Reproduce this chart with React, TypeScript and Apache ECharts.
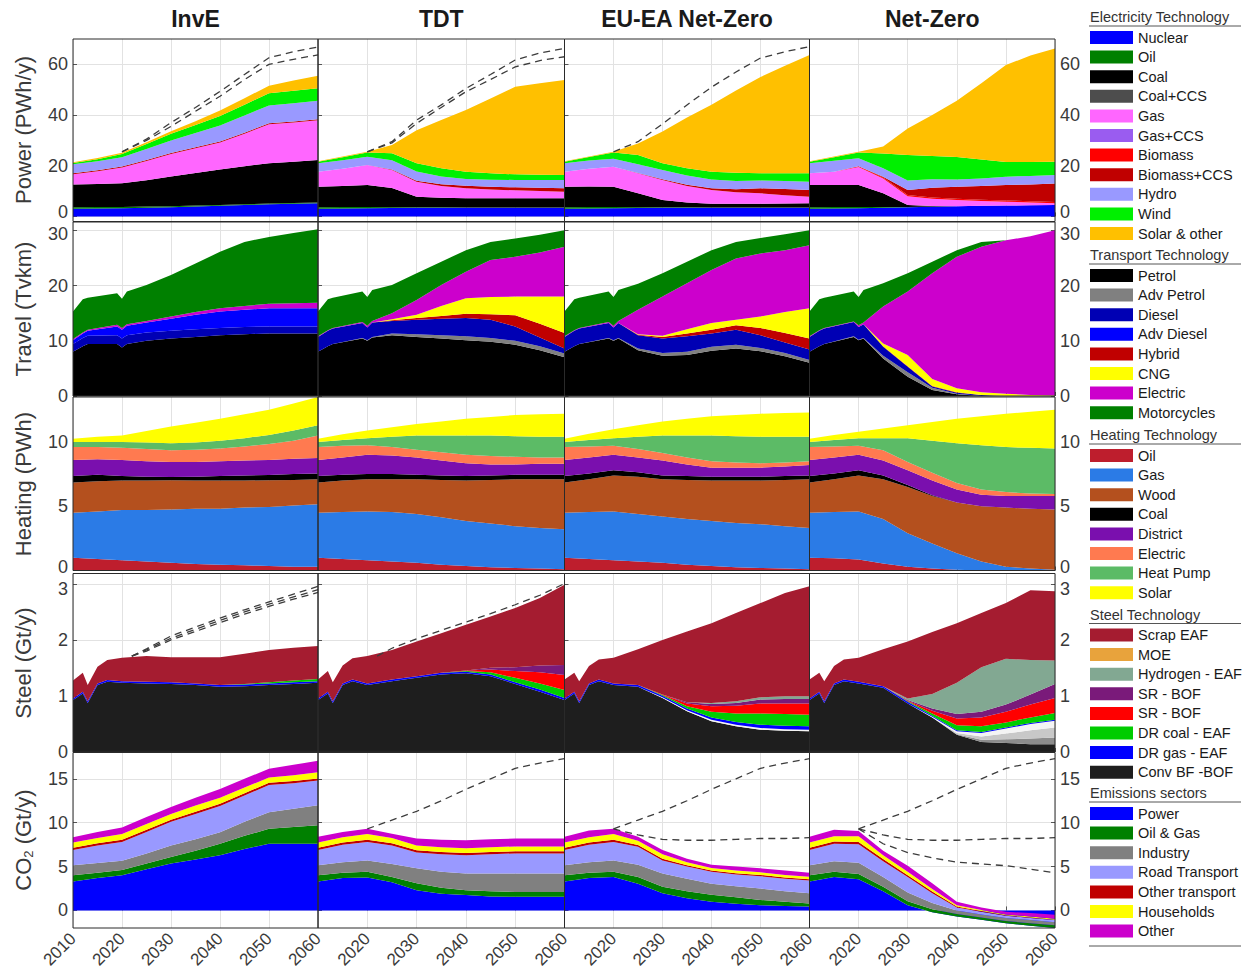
import React, { useEffect, useRef } from 'react';
import * as echarts from 'echarts';

const FONT = '"Liberation Sans", Arial, Helvetica, sans-serif';

// ---------- time bases ----------
const YEARS = [2010, 2015, 2020, 2025, 2030, 2035, 2040, 2045, 2050, 2055, 2060];
const TRAVEL_YEARS = [2010, 2012, 2013, 2019, 2020, 2021, 2025, 2030, 2035, 2040, 2045, 2050, 2055, 2060];
const STEEL_YEARS = [2010, 2012, 2013, 2015, 2017, 2020, 2025, 2030, 2035, 2040, 2045, 2050, 2055, 2060];
const REF_YEARS = [2020, 2025, 2030, 2035, 2040, 2045, 2050, 2055, 2060];
const STEEL_REF_YEARS = [2022, 2025, 2030, 2035, 2040, 2045, 2050, 2055, 2060];

const SCENARIOS = ['InvE', 'TDT', 'EU-EA Net-Zero', 'Net-Zero'];

// ---------- tick labels ----------
const POWER_TICKS = [0, 20, 40, 60];
const TRAVEL_TICKS = [0, 10, 20, 30];
const HEATING_TICKS = [0, 5, 10];
const STEEL_TICKS = [0, 1, 2, 3];
const CO2_TICKS = [0, 5, 10, 15];

// ---------- technologies (stack order, bottom first) ----------
type Tech = { key: string; name: string; color: string };

const ELECTRICITY_TECH: Tech[] = [
  { key: 'nuclear', name: 'Nuclear', color: '#0000ff' },
  { key: 'oil', name: 'Oil', color: '#008000' },
  { key: 'coal', name: 'Coal', color: '#000000' },
  { key: 'coalCcs', name: 'Coal+CCS', color: '#4d4d4d' },
  { key: 'gas', name: 'Gas', color: '#ff66ff' },
  { key: 'gasCcs', name: 'Gas+CCS', color: '#9a5cf0' },
  { key: 'biomass', name: 'Biomass', color: '#ff0000' },
  { key: 'biomassCcs', name: 'Biomass+CCS', color: '#c00000' },
  { key: 'hydro', name: 'Hydro', color: '#9999ff' },
  { key: 'wind', name: 'Wind', color: '#00f000' },
  { key: 'solar', name: 'Solar & other', color: '#ffc000' },
];

const TRANSPORT_TECH: Tech[] = [
  { key: 'petrol', name: 'Petrol', color: '#000000' },
  { key: 'advPetrol', name: 'Adv Petrol', color: '#808080' },
  { key: 'diesel', name: 'Diesel', color: '#0000b4' },
  { key: 'advDiesel', name: 'Adv Diesel', color: '#0000ff' },
  { key: 'hybrid', name: 'Hybrid', color: '#c00000' },
  { key: 'cng', name: 'CNG', color: '#ffff00' },
  { key: 'electric', name: 'Electric', color: '#cc00cc' },
  { key: 'motorcycles', name: 'Motorcycles', color: '#008000' },
];

const HEATING_TECH: Tech[] = [
  { key: 'oil', name: 'Oil', color: '#be1e2d' },
  { key: 'gas', name: 'Gas', color: '#2b7be6' },
  { key: 'wood', name: 'Wood', color: '#b4501e' },
  { key: 'coal', name: 'Coal', color: '#000000' },
  { key: 'district', name: 'District', color: '#7a0fae' },
  { key: 'electric', name: 'Electric', color: '#ff7a50' },
  { key: 'heatPump', name: 'Heat Pump', color: '#5cbb66' },
  { key: 'solar', name: 'Solar', color: '#ffff00' },
];

// legend order of the steel routes (top of the list = top of the stack)
const STEEL_TECH: Tech[] = [
  { key: 'scrap', name: 'Scrap EAF', color: '#a51c30' },
  { key: 'moe', name: 'MOE', color: '#e8a33c' },
  { key: 'hydrogen', name: 'Hydrogen - EAF', color: '#82a892' },
  { key: 'srPurple', name: 'SR - BOF', color: '#7a1a7a' },
  { key: 'srRed', name: 'SR - BOF', color: '#ff0000' },
  { key: 'drCoal', name: 'DR coal - EAF', color: '#00cc00' },
  { key: 'drGas', name: 'DR gas - EAF', color: '#0000ff' },
  { key: 'conv', name: 'Conv BF -BOF', color: '#1e1e1e' },
];
// capture variants drawn in grey shades, unlisted
const STEEL_CAPTURE: Tech[] = [
  { key: 'ccsA', name: 'BF-BOF CCS', color: '#8c8c8c' },
  { key: 'ccsB', name: 'DR CCS', color: '#c8c8c8' },
  { key: 'ccsC', name: 'SR CCS', color: '#f4f4f4' },
];
const STEEL_STACK_ORDER = ['conv', 'ccsA', 'ccsB', 'ccsC', 'drGas', 'drCoal', 'srRed', 'srPurple', 'hydrogen', 'moe', 'scrap'];

const EMISSION_SECTORS: Tech[] = [
  { key: 'power', name: 'Power', color: '#0000ff' },
  { key: 'oilGas', name: 'Oil & Gas', color: '#008000' },
  { key: 'industry', name: 'Industry', color: '#808080' },
  { key: 'road', name: 'Road Transport', color: '#9999ff' },
  { key: 'otherTransport', name: 'Other transport', color: '#c00000' },
  { key: 'households', name: 'Households', color: '#ffff00' },
  { key: 'other', name: 'Other', color: '#cc00cc' },
];

// ---------- power generation, PWh/y ----------
const POWER_INVE: Record<string, number[]> = {
  nuclear: [3.0, 3.1, 3.2, 3.4, 3.6, 3.9, 4.2, 4.5, 4.8, 5.0, 5.2],
  oil: [0.6, 0.6, 0.5, 0.5, 0.4, 0.4, 0.3, 0.3, 0.3, 0.3, 0.3],
  coal: [9.0, 9.1, 9.4, 10.4, 11.8, 12.8, 14.0, 15.0, 15.9, 16.3, 16.8],
  gas: [4.0, 5.0, 6.2, 7.6, 8.8, 9.8, 10.7, 12.8, 15.4, 15.5, 15.6],
  biomassCcs: [0.4, 0.4, 0.4, 0.4, 0.4, 0.4, 0.4, 0.4, 0.4, 0.4, 0.4],
  hydro: [3.6, 3.6, 3.6, 4.3, 5.0, 5.6, 6.3, 6.8, 7.0, 7.2, 7.3],
  wind: [0.5, 0.8, 1.3, 2.0, 2.6, 3.2, 3.7, 4.3, 4.8, 4.9, 5.0],
  solar: [0.3, 0.5, 0.5, 0.7, 1.0, 1.5, 2.2, 2.5, 3.0, 4.0, 4.9],
};
const POWER_TDT: Record<string, number[]> = {
  nuclear: [3.0, 3.1, 3.2, 3.3, 3.4, 3.4, 3.4, 3.4, 3.4, 3.4, 3.4],
  oil: [0.6, 0.6, 0.5, 0.3, 0.2, 0.2, 0.1, 0.1, 0.1, 0.1, 0.1],
  coal: [8.1, 8.3, 8.7, 7.6, 4.2, 3.8, 3.7, 3.7, 3.7, 3.7, 3.7],
  gas: [5.9, 6.8, 7.9, 7.1, 5.9, 4.6, 3.9, 3.4, 3.1, 2.8, 2.55],
  biomassCcs: [0, 0, 0, 0.2, 0.4, 0.7, 1.0, 1.1, 1.2, 1.3, 1.35],
  hydro: [3.4, 3.4, 3.2, 3.7, 3.6, 3.1, 2.7, 2.8, 2.9, 3.1, 3.3],
  wind: [0.6, 1.1, 1.7, 2.7, 3.3, 3.2, 2.8, 2.5, 2.2, 2.0, 1.9],
  solar: [0.2, 0.3, 0.3, 3.3, 13.0, 19.0, 24.4, 29.5, 34.6, 36.1, 37.5],
};
const POWER_EUEA: Record<string, number[]> = {
  nuclear: [3.0, 3.1, 3.2, 3.3, 3.4, 3.4, 3.4, 3.4, 3.4, 3.4, 3.4],
  oil: [0.6, 0.6, 0.5, 0.3, 0.2, 0.2, 0.1, 0.1, 0.1, 0.1, 0.1],
  coal: [8.1, 8.1, 8.0, 5.5, 2.9, 1.9, 1.5, 1.5, 1.5, 1.6, 1.7],
  gas: [5.9, 7.0, 7.9, 7.9, 7.9, 6.5, 5.4, 4.5, 4.1, 3.3, 2.6],
  biomassCcs: [0, 0, 0, 0.1, 0.3, 0.5, 0.7, 1.2, 2.0, 2.4, 2.6],
  hydro: [3.4, 3.3, 3.2, 3.5, 3.6, 3.6, 3.5, 3.3, 3.1, 3.2, 3.3],
  wind: [0.6, 1.3, 2.4, 3.6, 2.7, 2.9, 3.0, 3.2, 2.8, 3.0, 3.3],
  solar: [0.2, 0.2, 0.3, 4.6, 12.5, 20.0, 26.5, 32.5, 38.0, 42.4, 46.7],
};
const POWER_NETZERO: Record<string, number[]> = {
  nuclear: [3.0, 3.1, 3.2, 3.4, 3.6, 3.8, 4.0, 4.2, 4.3, 4.4, 4.5],
  oil: [0.6, 0.6, 0.5, 0.3, 0.1, 0.1, 0, 0, 0, 0, 0],
  coal: [8.8, 8.7, 8.7, 5.4, 0.8, 0.2, 0, 0, 0, 0, 0],
  gas: [4.6, 5.2, 7.1, 5.9, 3.5, 2.9, 2.5, 1.9, 1.5, 1.1, 0.7],
  biomass: [0, 0, 0.3, 0.4, 0.5, 0.5, 0.5, 0.5, 0.5, 0.5, 0.5],
  biomassCcs: [0, 0, 0, 0.3, 1.9, 3.8, 4.7, 5.4, 6.1, 6.6, 7.3],
  hydro: [4.0, 4.4, 3.2, 3.3, 3.8, 3.4, 2.9, 3.0, 3.3, 3.4, 3.3],
  wind: [0.6, 1.3, 2.2, 5.8, 10.0, 9.1, 8.8, 7.5, 5.8, 5.5, 5.3],
  solar: [0.2, 0.3, 0.3, 2.8, 10.5, 16.2, 22.2, 30.0, 38.2, 42.0, 44.7],
};
// total generation of the other scenarios (dashed)
const POWER_REF_INVE_A = [25.5, 30.5, 37.0, 43.0, 49.3, 56.0, 62.6, 65.0, 66.8];
const POWER_REF_INVE_B = [25.5, 30.0, 35.5, 41.5, 47.4, 54.0, 60.0, 62.0, 63.7];
const POWER_REF_TDT_A = [25.5, 29.5, 38.0, 44.0, 50.5, 56.0, 61.7, 64.5, 66.3];
const POWER_REF_TDT_B = [25.5, 29.0, 36.7, 43.0, 49.2, 54.0, 59.0, 61.5, 63.0];
const POWER_REF_EUEA = [25.5, 29.5, 36.5, 44.0, 51.0, 57.0, 62.5, 65.0, 67.0];

// ---------- passenger travel, Tvkm ----------
const TRAVEL_INVE: Record<string, number[]> = {
  petrol: [8.0, 9.0, 9.4, 9.4, 8.8, 9.4, 10.0, 10.4, 10.7, 11.0, 11.2, 11.3, 11.3, 11.3],
  diesel: [1.4, 1.5, 1.5, 1.6, 1.6, 1.6, 1.5, 1.4, 1.4, 1.3, 1.3, 1.3, 1.3, 1.3],
  advDiesel: [0.7, 0.8, 0.9, 1.6, 1.6, 1.7, 1.8, 2.2, 2.6, 3.0, 3.1, 3.3, 3.3, 3.3],
  electric: [0.2, 0.2, 0.2, 0.3, 0.3, 0.3, 0.3, 0.4, 0.5, 0.6, 0.7, 0.8, 0.9, 1.0],
  motorcycles: [5.0, 6.0, 5.8, 5.7, 5.3, 5.9, 6.5, 7.5, 8.8, 10.2, 11.6, 12.1, 12.7, 13.3],
};
const TRAVEL_TDT: Record<string, number[]> = {
  petrol: [8.0, 9.0, 9.4, 10.4, 10.0, 10.6, 11.0, 10.7, 10.4, 10.1, 9.8, 9.3, 8.3, 7.0],
  advPetrol: [0, 0, 0, 0.1, 0.1, 0.1, 0.3, 0.5, 0.6, 0.7, 0.7, 0.7, 0.7, 0.7],
  diesel: [2.7, 2.8, 2.8, 2.7, 2.3, 2.6, 2.3, 2.6, 3.0, 3.3, 3.3, 2.6, 1.6, 0.9],
  hybrid: [0, 0, 0, 0, 0, 0, 0.1, 0.3, 0.5, 0.8, 1.0, 2.0, 2.5, 2.8],
  cng: [0, 0, 0, 0, 0, 0, 0.2, 0.6, 1.8, 2.8, 3.1, 3.4, 4.9, 6.6],
  electric: [0.1, 0.1, 0.1, 0.2, 0.3, 0.3, 1.1, 2.7, 3.8, 4.8, 6.7, 7.2, 8.0, 9.0],
  motorcycles: [4.5, 5.6, 5.5, 5.5, 5.2, 5.6, 5.1, 4.8, 4.2, 3.9, 3.3, 3.3, 3.2, 3.0],
};
const TRAVEL_EUEA: Record<string, number[]> = {
  petrol: [8.0, 9.0, 9.4, 10.4, 10.0, 10.4, 8.3, 7.3, 7.4, 8.2, 8.6, 8.1, 7.2, 6.0],
  advPetrol: [0, 0, 0, 0.1, 0.1, 0.1, 0.3, 0.5, 0.6, 0.7, 0.7, 0.6, 0.6, 0.5],
  diesel: [2.7, 2.8, 2.8, 2.7, 2.3, 2.7, 2.4, 2.6, 2.8, 2.4, 2.7, 2.3, 1.9, 1.9],
  hybrid: [0, 0, 0, 0, 0, 0, 0.1, 0.3, 0.5, 0.7, 0.8, 1.3, 1.7, 2.0],
  cng: [0, 0, 0, 0, 0, 0, 0.1, 0.2, 0.8, 1.2, 1.0, 2.1, 3.8, 5.5],
  electric: [0.1, 0.1, 0.1, 0.2, 0.3, 0.4, 4.4, 7.1, 8.3, 9.6, 11.1, 11.4, 11.2, 11.4],
  motorcycles: [4.5, 5.6, 5.5, 5.5, 5.2, 5.6, 4.7, 4.2, 3.9, 3.6, 3.0, 2.8, 2.9, 2.7],
};
const TRAVEL_NETZERO: Record<string, number[]> = {
  petrol: [8.0, 9.0, 9.4, 10.7, 10.1, 10.4, 6.8, 3.5, 1.1, 0.3, 0, 0, 0, 0],
  advPetrol: [0, 0, 0, 0.1, 0.1, 0.1, 0.5, 0.8, 0.4, 0.1, 0, 0, 0, 0],
  diesel: [2.7, 2.8, 2.8, 2.6, 2.3, 2.5, 1.6, 1.0, 0.2, 0.2, 0.2, 0, 0, 0],
  hybrid: [0, 0, 0, 0, 0, 0, 0.1, 0.1, 0.1, 0.1, 0, 0, 0, 0],
  cng: [0, 0, 0, 0, 0, 0, 0.5, 2.0, 1.3, 0.7, 0.5, 0.4, 0.2, 0.1],
  electric: [0.1, 0.1, 0.1, 0.1, 0.3, 0.3, 6.7, 11.5, 19.1, 23.8, 26.3, 27.8, 28.7, 29.9],
  motorcycles: [4.5, 5.6, 5.5, 5.4, 5.1, 5.9, 4.2, 3.3, 2.1, 1.2, 0.9, 0, 0, 0],
};

// ---------- heating, PWh ----------
const HEAT_INVE: Record<string, number[]> = {
  oil: [1.0, 0.9, 0.8, 0.7, 0.6, 0.5, 0.45, 0.4, 0.35, 0.3, 0.3],
  gas: [3.5, 3.7, 3.9, 4.0, 4.15, 4.3, 4.35, 4.5, 4.6, 4.75, 4.85],
  wood: [2.35, 2.35, 2.3, 2.3, 2.28, 2.2, 2.2, 2.1, 2.08, 2.0, 1.95],
  coal: [0.5, 0.5, 0.35, 0.3, 0.25, 0.3, 0.35, 0.4, 0.4, 0.45, 0.45],
  district: [1.25, 1.2, 1.25, 1.2, 1.17, 1.15, 1.15, 1.15, 1.17, 1.2, 1.2],
  electric: [1.0, 0.95, 0.95, 0.95, 0.9, 0.95, 1.0, 1.1, 1.25, 1.4, 1.75],
  heatPump: [0.4, 0.4, 0.45, 0.5, 0.55, 0.55, 0.6, 0.65, 0.7, 0.8, 0.8],
  solar: [0.25, 0.4, 0.5, 0.9, 1.3, 1.55, 1.7, 1.85, 1.95, 2.1, 2.2],
};
const HEAT_TDT: Record<string, number[]> = {
  oil: [1.0, 0.9, 0.8, 0.7, 0.6, 0.45, 0.35, 0.25, 0.2, 0.15, 0.1],
  gas: [3.5, 3.65, 3.8, 3.85, 3.8, 3.7, 3.5, 3.4, 3.25, 3.15, 3.1],
  wood: [2.35, 2.45, 2.5, 2.55, 2.7, 2.9, 3.15, 3.4, 3.65, 3.8, 3.9],
  coal: [0.5, 0.45, 0.4, 0.4, 0.35, 0.35, 0.35, 0.35, 0.35, 0.35, 0.35],
  district: [1.25, 1.35, 1.5, 1.45, 1.35, 1.15, 1.0, 0.85, 0.8, 0.85, 0.85],
  electric: [1.0, 0.9, 0.75, 0.65, 0.6, 0.65, 0.65, 0.65, 0.6, 0.5, 0.5],
  heatPump: [0.4, 0.45, 0.55, 0.8, 1.1, 1.3, 1.5, 1.6, 1.6, 1.6, 1.6],
  solar: [0.25, 0.45, 0.6, 0.75, 0.9, 1.1, 1.3, 1.45, 1.65, 1.75, 1.8],
};
const HEAT_EUEA: Record<string, number[]> = {
  oil: [1.0, 0.9, 0.8, 0.7, 0.6, 0.45, 0.35, 0.25, 0.2, 0.15, 0.1],
  gas: [3.5, 3.65, 3.8, 3.7, 3.6, 3.55, 3.5, 3.45, 3.4, 3.3, 3.2],
  wood: [2.35, 2.55, 2.8, 2.9, 2.9, 3.05, 3.15, 3.3, 3.4, 3.6, 3.8],
  coal: [0.5, 0.45, 0.4, 0.35, 0.3, 0.3, 0.3, 0.3, 0.3, 0.3, 0.3],
  district: [1.25, 1.25, 1.2, 1.15, 1.15, 0.9, 0.7, 0.7, 0.7, 0.75, 0.8],
  electric: [1.0, 0.85, 0.7, 0.65, 0.6, 0.55, 0.5, 0.4, 0.35, 0.3, 0.3],
  heatPump: [0.4, 0.5, 0.6, 0.95, 1.35, 1.7, 2.0, 2.05, 2.05, 2.0, 1.9],
  solar: [0.25, 0.5, 0.7, 0.9, 1.1, 1.3, 1.5, 1.65, 1.8, 1.85, 1.9],
};
const HEAT_NETZERO: Record<string, number[]> = {
  oil: [1.0, 0.95, 0.85, 0.55, 0.3, 0.15, 0.05, 0, 0, 0, 0],
  gas: [3.5, 3.6, 3.75, 3.45, 2.6, 1.95, 1.3, 0.7, 0.3, 0.15, 0.05],
  wood: [2.35, 2.55, 2.8, 3.1, 3.6, 3.7, 3.95, 4.3, 4.6, 4.65, 4.7],
  coal: [0.5, 0.45, 0.4, 0.3, 0.15, 0.05, 0, 0, 0, 0, 0],
  district: [1.25, 1.25, 1.2, 1.15, 1.15, 1.15, 1.0, 0.9, 0.9, 1.0, 1.05],
  electric: [1.0, 0.85, 0.7, 0.8, 0.65, 0.6, 0.5, 0.4, 0.3, 0.2, 0.15],
  heatPump: [0.4, 0.5, 0.6, 0.95, 1.85, 2.5, 3.1, 3.45, 3.5, 3.55, 3.55],
  solar: [0.25, 0.4, 0.5, 0.75, 1.0, 1.45, 1.9, 2.25, 2.6, 2.8, 3.0],
};

// ---------- steel production, Gt/y ----------
const STEEL_INVE: Record<string, number[]> = {
  conv: [0.93, 1.05, 0.88, 1.2, 1.26, 1.24, 1.23, 1.22, 1.2, 1.17, 1.18, 1.2, 1.22, 1.24],
  drGas: [0.03, 0.03, 0.03, 0.03, 0.03, 0.03, 0.03, 0.03, 0.03, 0.03, 0.03, 0.03, 0.03, 0.03],
  drCoal: [0, 0, 0, 0, 0, 0, 0, 0, 0, 0, 0.01, 0.02, 0.03, 0.04],
  scrap: [0.32, 0.34, 0.29, 0.3, 0.36, 0.42, 0.46, 0.45, 0.47, 0.5, 0.54, 0.58, 0.59, 0.59],
};
const STEEL_TDT: Record<string, number[]> = {
  conv: [0.93, 1.05, 0.88, 1.2, 1.27, 1.2, 1.27, 1.33, 1.39, 1.41, 1.36, 1.22, 1.08, 0.93],
  drGas: [0.03, 0.03, 0.03, 0.03, 0.03, 0.03, 0.03, 0.03, 0.03, 0.03, 0.03, 0.03, 0.04, 0.04],
  drCoal: [0, 0, 0, 0, 0, 0, 0, 0, 0, 0.01, 0.04, 0.08, 0.11, 0.14],
  srRed: [0, 0, 0, 0, 0, 0, 0, 0, 0, 0.01, 0.05, 0.12, 0.2, 0.27],
  srPurple: [0, 0, 0, 0, 0, 0, 0, 0, 0, 0, 0.03, 0.07, 0.12, 0.18],
  scrap: [0.34, 0.37, 0.34, 0.32, 0.38, 0.49, 0.53, 0.62, 0.71, 0.82, 0.92, 1.06, 1.21, 1.44],
};
const STEEL_EUEA: Record<string, number[]> = {
  conv: [0.93, 1.05, 0.88, 1.2, 1.27, 1.2, 1.17, 0.97, 0.73, 0.55, 0.46, 0.4, 0.38, 0.37],
  ccsC: [0, 0, 0, 0, 0, 0, 0, 0.01, 0.02, 0.03, 0.03, 0.03, 0.03, 0.03],
  drGas: [0.03, 0.03, 0.03, 0.03, 0.03, 0.03, 0.03, 0.03, 0.03, 0.04, 0.05, 0.06, 0.06, 0.06],
  drCoal: [0, 0, 0, 0, 0, 0, 0, 0.01, 0.04, 0.1, 0.15, 0.2, 0.21, 0.21],
  srRed: [0, 0, 0, 0, 0, 0, 0, 0.01, 0.05, 0.1, 0.14, 0.18, 0.19, 0.2],
  srPurple: [0, 0, 0, 0, 0, 0, 0, 0, 0.02, 0.04, 0.05, 0.07, 0.08, 0.08],
  hydrogen: [0, 0, 0, 0, 0, 0, 0, 0, 0, 0.02, 0.03, 0.04, 0.05, 0.05],
  scrap: [0.34, 0.34, 0.36, 0.31, 0.36, 0.46, 0.64, 0.98, 1.27, 1.43, 1.58, 1.69, 1.85, 1.97],
};
const STEEL_NETZERO: Record<string, number[]> = {
  conv: [0.93, 1.05, 0.88, 1.2, 1.27, 1.23, 1.15, 0.87, 0.62, 0.31, 0.18, 0.16, 0.14, 0.14],
  ccsA: [0, 0, 0, 0, 0, 0, 0, 0, 0, 0.01, 0.04, 0.07, 0.1, 0.12],
  ccsB: [0, 0, 0, 0, 0, 0, 0, 0, 0, 0.02, 0.06, 0.1, 0.15, 0.18],
  ccsC: [0, 0, 0, 0, 0, 0, 0, 0, 0.01, 0.03, 0.06, 0.09, 0.11, 0.12],
  drGas: [0.03, 0.03, 0.03, 0.03, 0.03, 0.03, 0.03, 0.03, 0.02, 0.02, 0.02, 0.02, 0.02, 0.02],
  drCoal: [0, 0, 0, 0, 0, 0, 0, 0.01, 0.04, 0.09, 0.1, 0.09, 0.1, 0.12],
  srRed: [0, 0, 0, 0, 0, 0, 0, 0.01, 0.05, 0.12, 0.16, 0.19, 0.23, 0.27],
  srPurple: [0, 0, 0, 0, 0, 0, 0, 0.01, 0.04, 0.08, 0.1, 0.13, 0.18, 0.25],
  hydrogen: [0, 0, 0, 0, 0, 0, 0, 0.03, 0.26, 0.56, 0.8, 0.82, 0.62, 0.42],
  scrap: [0.34, 0.34, 0.36, 0.31, 0.36, 0.43, 0.66, 1.02, 1.11, 1.07, 0.97, 1.0, 1.25, 1.24],
};
const STEEL_REF_INVE_A = [1.72, 1.85, 2.08, 2.24, 2.4, 2.55, 2.69, 2.83, 2.97];
const STEEL_REF_INVE_B = [1.72, 1.83, 2.04, 2.2, 2.36, 2.51, 2.65, 2.78, 2.91];
const STEEL_REF_INVE_C = [1.72, 1.81, 2.01, 2.16, 2.32, 2.47, 2.61, 2.74, 2.86];
const STEEL_REF_TDT = [1.72, 1.86, 2.03, 2.18, 2.33, 2.48, 2.64, 2.81, 3.02];

// ---------- CO2 emissions, Gt/y ----------
const CO2_INVE: Record<string, number[]> = {
  power: [3.3, 3.7, 4.0, 4.7, 5.35, 5.8, 6.3, 7.0, 7.6, 7.6, 7.6],
  oilGas: [0.7, 0.6, 0.6, 0.65, 0.75, 1.0, 1.3, 1.5, 1.7, 1.9, 2.1],
  industry: [1.15, 1.1, 1.05, 1.15, 1.3, 1.3, 1.3, 1.6, 1.9, 2.1, 2.3],
  road: [1.75, 2.0, 2.15, 2.45, 2.7, 2.9, 3.0, 3.0, 3.1, 2.9, 2.8],
  otherTransport: [0.25, 0.25, 0.25, 0.25, 0.25, 0.25, 0.25, 0.25, 0.25, 0.25, 0.25],
  households: [0.6, 0.6, 0.65, 0.65, 0.65, 0.7, 0.7, 0.65, 0.6, 0.65, 0.7],
  other: [0.6, 0.7, 0.75, 0.8, 0.8, 0.9, 1.0, 1.0, 1.0, 1.2, 1.3],
};
const CO2_TDT: Record<string, number[]> = {
  power: [3.3, 3.7, 3.75, 3.2, 2.3, 1.9, 1.75, 1.6, 1.55, 1.55, 1.55],
  oilGas: [0.7, 0.6, 0.65, 0.6, 0.8, 0.7, 0.55, 0.6, 0.55, 0.55, 0.55],
  industry: [1.15, 1.2, 1.3, 1.5, 1.7, 1.8, 1.9, 2.0, 2.1, 2.1, 2.1],
  road: [1.75, 2.0, 2.1, 2.1, 1.8, 2.0, 2.1, 2.2, 2.3, 2.3, 2.3],
  otherTransport: [0.25, 0.25, 0.25, 0.25, 0.25, 0.25, 0.25, 0.25, 0.25, 0.25, 0.25],
  households: [0.6, 0.6, 0.65, 0.6, 0.55, 0.55, 0.55, 0.55, 0.55, 0.55, 0.55],
  other: [0.65, 0.6, 0.6, 0.5, 0.8, 0.85, 0.9, 0.9, 0.9, 0.9, 0.9],
};
const CO2_EUEA: Record<string, number[]> = {
  power: [3.3, 3.7, 3.8, 3.05, 1.95, 1.4, 1.0, 0.75, 0.6, 0.5, 0.45],
  oilGas: [0.7, 0.6, 0.6, 0.75, 0.75, 0.8, 0.8, 0.75, 0.6, 0.5, 0.35],
  industry: [1.15, 1.2, 1.3, 1.4, 1.5, 1.4, 1.25, 1.25, 1.3, 1.2, 1.15],
  road: [1.75, 2.0, 2.1, 2.05, 1.5, 1.4, 1.35, 1.35, 1.4, 1.4, 1.45],
  otherTransport: [0.25, 0.25, 0.25, 0.2, 0.2, 0.15, 0.15, 0.15, 0.15, 0.15, 0.15],
  households: [0.6, 0.6, 0.65, 0.5, 0.5, 0.35, 0.3, 0.3, 0.3, 0.3, 0.3],
  other: [0.65, 0.75, 0.6, 0.45, 0.5, 0.4, 0.35, 0.45, 0.45, 0.5, 0.45],
};
const CO2_NETZERO: Record<string, number[]> = {
  power: [3.3, 3.8, 3.55, 2.2, 0.6, -0.2, -0.7, -1.05, -1.45, -1.75, -2.0],
  oilGas: [0.7, 0.6, 0.6, 0.5, 0.45, 0.35, 0.3, 0.25, 0.25, 0.3, 0.3],
  industry: [1.15, 1.2, 1.3, 1.1, 1.0, 0.7, 0.4, 0.35, 0.35, 0.35, 0.35],
  road: [1.75, 2.0, 2.1, 1.8, 1.75, 1.1, 0.35, 0.3, 0.25, 0.25, 0.25],
  otherTransport: [0.25, 0.25, 0.25, 0.25, 0.2, 0.2, 0.1, 0.08, 0.05, 0.05, 0.05],
  households: [0.6, 0.6, 0.65, 0.45, 0.4, 0.3, 0.15, 0.12, 0.1, 0.1, 0.1],
  other: [0.65, 0.75, 0.6, 0.5, 0.7, 0.65, 0.4, 0.3, 0.3, 0.4, 0.45],
};
const CO2_REF_HIGH = [9.3, 10.3, 11.3, 12.5, 13.8, 15.0, 16.2, 16.8, 17.3];
const CO2_REF_MID = [9.3, 8.6, 8.1, 8.0, 8.0, 8.1, 8.2, 8.2, 8.3];
const CO2_REF_LOW = [9.3, 7.6, 6.6, 6.0, 5.5, 5.3, 5.1, 4.7, 4.3];

// ---------- layout ----------
const COL_EDGES = [73, 318, 564.5, 809.5, 1055];
const ROW_BOUNDS = [
  [39, 221.5],
  [222, 396],
  [397, 570.5],
  [573.5, 752],
  [752.5, 928],
];
const ROW_NAME_Y = [130, 309, 484, 663, 840];
// where two stacked panels meet, the bottom label of the upper one is nudged up
// and the top label of the lower one nudged down
const NUDGE_UP = [0, null, 0, null, null];
const NUDGE_DOWN = [null, 30, null, 3, null];
const GRID_LINE = '#e2e2e2';
const BOX = '#2a2a2a';
const TEXT = '#3a3a3a';
const TICK_FONT = 18;

const steelStack: Tech[] = STEEL_STACK_ORDER.map(
  (k) => (STEEL_TECH.find((t) => t.key === k) || STEEL_CAPTURE.find((t) => t.key === k)) as Tech
);

type Row = {
  name: string;
  techs: Tech[];
  years: number[];
  panels: Record<string, number[]>[];
  min: number;
  max: number;
  ticks: number[];
  refYears: number[];
  refs: number[][][];
};

const ROWS: Row[] = [
  {
    name: 'Power (PWh/y)', techs: ELECTRICITY_TECH, years: YEARS,
    panels: [POWER_INVE, POWER_TDT, POWER_EUEA, POWER_NETZERO],
    min: -2, max: 70, ticks: POWER_TICKS, refYears: REF_YEARS,
    refs: [[POWER_REF_INVE_A, POWER_REF_INVE_B], [POWER_REF_TDT_A, POWER_REF_TDT_B], [POWER_REF_EUEA], []],
  },
  {
    name: 'Travel (Tvkm)', techs: TRANSPORT_TECH, years: TRAVEL_YEARS,
    panels: [TRAVEL_INVE, TRAVEL_TDT, TRAVEL_EUEA, TRAVEL_NETZERO],
    min: 0, max: 31.5, ticks: TRAVEL_TICKS, refYears: REF_YEARS, refs: [[], [], [], []],
  },
  {
    name: 'Heating (PWh)', techs: HEATING_TECH, years: YEARS,
    panels: [HEAT_INVE, HEAT_TDT, HEAT_EUEA, HEAT_NETZERO],
    min: 0, max: 13.5, ticks: HEATING_TICKS, refYears: REF_YEARS, refs: [[], [], [], []],
  },
  {
    name: 'Steel (Gt/y)', techs: steelStack, years: STEEL_YEARS,
    panels: [STEEL_INVE, STEEL_TDT, STEEL_EUEA, STEEL_NETZERO],
    min: 0, max: 3.2, ticks: STEEL_TICKS, refYears: STEEL_REF_YEARS,
    refs: [[STEEL_REF_INVE_A, STEEL_REF_INVE_B, STEEL_REF_INVE_C], [STEEL_REF_TDT], [], []],
  },
  {
    name: 'CO2 (Gt/y)', techs: EMISSION_SECTORS, years: YEARS,
    panels: [CO2_INVE, CO2_TDT, CO2_EUEA, CO2_NETZERO],
    min: -2, max: 18, ticks: CO2_TICKS, refYears: REF_YEARS,
    refs: [[], [CO2_REF_HIGH], [CO2_REF_HIGH, CO2_REF_MID], [CO2_REF_HIGH, CO2_REF_MID, CO2_REF_LOW]],
  },
];

const LEGEND_SECTIONS = [
  { title: 'Electricity Technology', items: ELECTRICITY_TECH, y: 17 },
  { title: 'Transport Technology', items: TRANSPORT_TECH, y: 255 },
  { title: 'Heating Technology', items: HEATING_TECH, y: 435 },
  { title: 'Steel Technology', items: STEEL_TECH, y: 614.5 },
  { title: 'Emissions sectors', items: EMISSION_SECTORS, y: 793 },
];

function buildOption() {
  const grid: any[] = [];
  const xAxis: any[] = [];
  const yAxis: any[] = [];
  const series: any[] = [];
  const graphic: any[] = [];

  const tickRich = {
    n: { fontSize: TICK_FONT, fontFamily: FONT, color: TEXT },
    up: { fontSize: TICK_FONT, fontFamily: FONT, color: TEXT, padding: [0, 0, 8, 0] },
    down: { fontSize: TICK_FONT, fontFamily: FONT, color: TEXT, padding: [8, 0, 0, 0] },
  };

  ROWS.forEach((row, r) => {
    const [top, bottom] = ROW_BOUNDS[r];
    const isBottom = r === ROWS.length - 1;
    for (let c = 0; c < 4; c++) {
      const i = r * 4 + c;
      const left = COL_EDGES[c];
      const width = COL_EDGES[c + 1] - left;
      grid.push({ left, top, width, height: bottom - top, show: false });
      xAxis.push({
        type: 'value', gridIndex: i, min: 2010, max: 2060, interval: 10,
        axisLine: { show: false },
        axisTick: { show: true, inside: true, length: 4, lineStyle: { color: '#555' } },
        splitLine: { show: true, lineStyle: { color: GRID_LINE, width: 1 } },
        axisLabel: {
          show: isBottom, rotate: 45, fontSize: 17, color: TEXT, fontFamily: FONT, margin: 8,
          formatter: (v: number) => (c > 0 && v === 2010 ? '' : String(v)),
        },
      });
      yAxis.push({
        type: 'value', gridIndex: i, min: row.min, max: row.max,
        position: c === 3 ? 'right' : 'left',
        axisLine: { show: false },
        axisTick: { show: true, inside: true, length: 4, customValues: row.ticks, lineStyle: { color: '#555' } },
        splitLine: { show: true, lineStyle: { color: GRID_LINE, width: 1 } },
        axisLabel: {
          show: c === 0 || c === 3, customValues: row.ticks, fontSize: TICK_FONT,
          color: TEXT, fontFamily: FONT, margin: 5, rich: tickRich,
          formatter: (v: number) =>
            v === NUDGE_UP[r] ? `{up|${v}}` : v === NUDGE_DOWN[r] ? `{down|${v}}` : `{n|${v}}`,
        },
      });

      // stacked layers: value first, year second, so that the value dimension is the stacked one
      const panel = row.panels[c];
      row.techs.forEach((t) => {
        const vals = panel[t.key];
        if (!vals) return;
        series.push({
          type: 'line', name: t.name, xAxisIndex: i, yAxisIndex: i,
          stack: 'panel' + i, stackStrategy: 'all',
          encode: { x: 1, y: 0 },
          symbol: 'none', showSymbol: false, silent: true,
          lineStyle: { width: 0 }, itemStyle: { color: t.color },
          areaStyle: { color: t.color, opacity: 1 },
          data: row.years.map((y, k) => [vals[k], y]),
        });
      });
      row.refs[c].forEach((vals) => {
        series.push({
          type: 'line', xAxisIndex: i, yAxisIndex: i, symbol: 'none', showSymbol: false,
          silent: true, z: 5,
          lineStyle: { color: '#3c3c3c', width: 1.3, type: [7, 5] },
          data: row.refYears.map((y, k) => [y, vals[k]]),
        });
      });

      graphic.push({
        type: 'rect', silent: true, z: 100,
        shape: { x: left, y: top, width, height: bottom - top },
        style: { fill: 'none', stroke: BOX, lineWidth: 1 },
      });
    }

    // row name
    const isCo2 = r === ROWS.length - 1;
    graphic.push({
      type: 'text', x: 23, y: ROW_NAME_Y[r], rotation: Math.PI / 2, silent: true, z: 100,
      style: isCo2
        ? {
            text: '{a|CO}{b|2}{a| (Gt/y)}',
            rich: {
              a: { fontSize: 22, fontFamily: FONT, fill: TEXT },
              b: { fontSize: 13, fontFamily: FONT, fill: TEXT, verticalAlign: 'bottom', padding: [10, 0, 0, 0] },
            },
            align: 'center', verticalAlign: 'middle', textAlign: 'center', textVerticalAlign: 'middle',
          }
        : {
            text: row.name, fontSize: 22, fontFamily: FONT, fill: TEXT,
            align: 'center', verticalAlign: 'middle', textAlign: 'center', textVerticalAlign: 'middle',
          },
    });
  });

  // scenario titles
  SCENARIOS.forEach((s, c) => {
    graphic.push({
      type: 'text', x: (COL_EDGES[c] + COL_EDGES[c + 1]) / 2, y: 19, silent: true, z: 100,
      style: {
        text: s, fontSize: 23, fontWeight: 'bold', fontFamily: FONT, fill: '#1a1a1a',
        align: 'center', verticalAlign: 'middle', textAlign: 'center', textVerticalAlign: 'middle',
      },
    });
  });

  // legend blocks
  LEGEND_SECTIONS.forEach((sec) => {
    graphic.push({
      type: 'text', x: 1090, y: sec.y, silent: true, z: 100,
      style: {
        text: sec.title, fontSize: 14.5, fontFamily: FONT, fill: '#333',
        align: 'left', verticalAlign: 'middle', textAlign: 'left', textVerticalAlign: 'middle',
      },
    });
    graphic.push({
      type: 'line', silent: true, z: 100,
      shape: { x1: 1089, y1: sec.y + 9, x2: 1241, y2: sec.y + 9 },
      style: { stroke: '#555', lineWidth: 1 },
    });
    sec.items.forEach((t, k) => {
      const y = sec.y + 20.5 + k * 19.6;
      graphic.push({
        type: 'rect', silent: true, z: 100,
        shape: { x: 1090, y: y - 6.5, width: 43, height: 13 },
        style: { fill: t.color },
      });
      graphic.push({
        type: 'text', x: 1138, y, silent: true, z: 100,
        style: {
          text: t.name, fontSize: 14.5, fontFamily: FONT, fill: '#1a1a1a',
          align: 'left', verticalAlign: 'middle', textAlign: 'left', textVerticalAlign: 'middle',
        },
      });
    });
  });
  graphic.push({
    type: 'line', silent: true, z: 100,
    shape: { x1: 1089, y1: 946, x2: 1241, y2: 946 },
    style: { stroke: '#555', lineWidth: 1 },
  });

  return {
    animation: false,
    backgroundColor: '#ffffff',
    textStyle: { fontFamily: FONT },
    grid, xAxis, yAxis, series, graphic,
  };
}

export default function App() {
  const ref = useRef<HTMLDivElement>(null);
  useEffect(() => {
    if (!ref.current) return;
    const chart = echarts.init(ref.current, undefined, { renderer: 'svg' });
    chart.setOption(buildOption());
    return () => chart.dispose();
  }, []);
  return (
    <div
      ref={ref}
      style={{ position: 'fixed', left: 0, top: 0, width: 1246, height: 980, background: '#fff' }}
    />
  );
}
